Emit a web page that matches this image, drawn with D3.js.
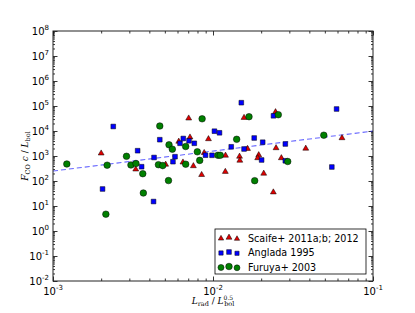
<!DOCTYPE html>
<html>
<head>
<meta charset="utf-8">
<script src="https://cdn.jsdelivr.net/npm/d3@7"></script>
<style>
  body { margin: 0; background: #fff; }
  text { font-family: "DejaVu Sans", sans-serif; }
</style>
</head>
<body>
<svg id="chart" width="415" height="313"></svg>
<script>
// Scaife+ 2011a;b; 2012 (red triangles)
const scaifeX = [0.00200, 0.00329, 0.00506, 0.00611, 0.00705, 0.00718, 0.00649, 0.00754, 0.00849, 0.00881,
  0.00937, 0.01563, 0.01643, 0.02459, 0.02478, 0.01197, 0.01465, 0.01471, 0.01931, 0.01902,
  0.02674, 0.01194, 0.02075, 0.02383, 0.0380, 0.0640];
const scaifeY = [1283, 294, 457, 3802, 32200, 5600, 560, 398, 177, 1343,
  4786, 34040, 1959, 57540, 2089, 1047, 955, 661, 1096, 832,
  832, 236, 200, 35.6, 1995, 5248];

// Anglada 1995 (blue squares)
const angladaX = [0.00238, 0.00338, 0.00358, 0.00204, 0.00425, 0.00428, 0.00465, 0.00562, 0.00579, 0.00622,
  0.00652, 0.00708, 0.00764, 0.00898, 0.00986, 0.01021, 0.01098, 0.01503, 0.02388, 0.01300,
  0.01563, 0.01809, 0.02045, 0.02831, 0.02013, 0.02831, 0.0592, 0.0553];
const angladaY = [15140, 1629, 373, 47.9, 15.1, 871, 4487, 592, 938, 3221,
  5012, 4055, 3221, 1076, 1067, 9817, 8472, 135500, 40550, 2333,
  1905, 5248, 3565, 3020, 692, 643, 75860, 363];

// Furuya+ 2003 (green circles)
const furuyaX = [0.00122, 0.00218, 0.00288, 0.00307, 0.00330, 0.00364, 0.00367, 0.00214, 0.00456, 0.00485,
  0.00527, 0.00465, 0.00531, 0.00557, 0.00675, 0.00675, 0.00826, 0.00798, 0.00855, 0.01074,
  0.01110, 0.01406, 0.01679, 0.02559, 0.02931, 0.01822, 0.04926];
const furuyaY = [479, 429, 973, 437, 501, 196, 33.1, 4.70, 449, 413,
  104, 15850, 2805, 1871, 2399, 470, 667, 1472, 30760, 1067,
  1067, 4656, 37330, 44870, 603, 103, 6792];

// dashed fit: F = fitNorm * (L / 1e-3)^fitSlope
const fitNorm = 250, fitSlope = 0.8;

const xExponents = [-3, -2, -1];
const yExponents = [-2, -1, 0, 1, 2, 3, 4, 5, 6, 7, 8];
const legendLabels = ["Scaife+ 2011a;b; 2012", "Anglada 1995", "Furuya+ 2003"];

const W = 415, H = 313;
const m = { top: 31, right: 42, bottom: 32, left: 53 };
const iW = W - m.left - m.right;
const iH = H - m.top - m.bottom;

const svg = d3.select("#chart");
const g = svg.append("g").attr("transform", `translate(${m.left},${m.top})`);

const x = d3.scaleLog().domain([1e-3, 1e-1]).range([0, iW]);
const y = d3.scaleLog().domain([1e-2, 1e8]).range([iH, 0]);

const xMajor = xExponents.map(e => Math.pow(10, e));
const yMajor = yExponents.map(e => Math.pow(10, e));
const isMajor = v => Math.abs(Math.log10(v) - Math.round(Math.log10(v))) < 1e-9;
const xMinor = x.ticks(20).filter(v => !isMajor(v));
const yMinor = y.ticks(100).filter(v => !isMajor(v));

// Ticks (inward, on all four sides)
function styleTicks(ax) {
  ax.select(".domain").remove();
  ax.selectAll(".tick line").attr("stroke", "#000").attr("stroke-width", 0.8);
  ax.selectAll(".tick text").remove();
}
g.append("g").attr("transform", `translate(0,${iH})`)
  .call(d3.axisBottom(x).tickValues(xMajor).tickSize(-4.5)).call(styleTicks);
g.append("g").attr("transform", `translate(0,${iH})`)
  .call(d3.axisBottom(x).tickValues(xMinor).tickSize(-2.5)).call(styleTicks);
g.append("g")
  .call(d3.axisTop(x).tickValues(xMajor).tickSize(-4.5)).call(styleTicks);
g.append("g")
  .call(d3.axisTop(x).tickValues(xMinor).tickSize(-2.5)).call(styleTicks);
g.append("g")
  .call(d3.axisLeft(y).tickValues(yMajor).tickSize(-4.5)).call(styleTicks);
g.append("g")
  .call(d3.axisLeft(y).tickValues(yMinor).tickSize(-2)).call(styleTicks);
g.append("g").attr("transform", `translate(${iW},0)`)
  .call(d3.axisRight(y).tickValues(yMajor).tickSize(-4.5)).call(styleTicks);
g.append("g").attr("transform", `translate(${iW},0)`)
  .call(d3.axisRight(y).tickValues(yMinor).tickSize(-2)).call(styleTicks);

// Tick labels: 10^n
function powLabel(sel, e) {
  sel.append("tspan").text("10");
  sel.append("tspan").attr("dy", -5).style("font-size", "7px").text(e);
}
xExponents.forEach(e => {
  g.append("text")
    .attr("x", x(Math.pow(10, e))).attr("y", iH + 14)
    .attr("text-anchor", "middle").style("font-size", "10px").attr("fill", "#000")
    .call(powLabel, e);
});
yExponents.forEach(e => {
  g.append("text")
    .attr("x", -4).attr("y", y(Math.pow(10, e)) + 4)
    .attr("text-anchor", "end").style("font-size", "10px").attr("fill", "#000")
    .call(powLabel, e);
});

// Fit line
const fit = v => fitNorm * Math.pow(v / 1e-3, fitSlope);
g.append("path")
  .datum(x.domain())
  .attr("d", d3.line().x(d => x(d)).y(d => y(fit(d))))
  .attr("stroke", "#3333ff").attr("stroke-opacity", 0.75).attr("stroke-width", 1.1)
  .attr("stroke-dasharray", "5,3").attr("fill", "none");

// Markers
const triSize = 15, sqSize = 22, circR = 3.3;
const tri = d3.symbol().type(d3.symbolTriangle).size(triSize);
const sq = d3.symbol().type(d3.symbolSquare).size(sqSize);

g.append("g").selectAll("path").data(d3.zip(scaifeX, scaifeY)).join("path")
  .attr("d", tri)
  .attr("transform", d => `translate(${x(d[0])},${y(d[1])})`)
  .attr("fill", "#e00000").attr("stroke", "#000").attr("stroke-width", 0.5);

g.append("g").selectAll("path").data(d3.zip(angladaX, angladaY)).join("path")
  .attr("d", sq)
  .attr("transform", d => `translate(${x(d[0])},${y(d[1])})`)
  .attr("fill", "#0000ff").attr("stroke", "#000").attr("stroke-width", 0.5);

g.append("g").selectAll("circle").data(d3.zip(furuyaX, furuyaY)).join("circle")
  .attr("cx", d => x(d[0])).attr("cy", d => y(d[1])).attr("r", circR)
  .attr("fill", "#008000").attr("stroke", "#000").attr("stroke-width", 0.5);

// Frame
g.append("rect").attr("width", iW).attr("height", iH)
  .attr("fill", "none").attr("stroke", "#222").attr("stroke-width", 1);

// Axis labels
const yl = svg.append("text")
  .attr("transform", `translate(28,${m.top + iH / 2}) rotate(-90)`)
  .attr("text-anchor", "middle")
  .style("font-family", "'DejaVu Serif', serif").style("font-size", "9px").attr("fill", "#000");
yl.append("tspan").style("font-style", "italic").text("F");
yl.append("tspan").attr("dy", 2).style("font-size", "6.5px").text("CO");
yl.append("tspan").attr("dy", -2).style("font-style", "italic").text(" c");
yl.append("tspan").text(" / ");
yl.append("tspan").style("font-style", "italic").text("L");
yl.append("tspan").attr("dy", 2).style("font-size", "6.5px").text("bol");

const xl = svg.append("text")
  .attr("x", m.left + iW / 2).attr("y", 304)
  .attr("text-anchor", "middle")
  .style("font-family", "'DejaVu Serif', serif").style("font-size", "9px").attr("fill", "#000");
xl.append("tspan").style("font-style", "italic").text("L");
xl.append("tspan").attr("dy", 2).style("font-size", "6.5px").text("rad");
xl.append("tspan").attr("dy", -2).text(" / ");
xl.append("tspan").style("font-style", "italic").text("L");
xl.append("tspan").attr("dy", -4).style("font-size", "6px").text("0.5");
xl.append("tspan").attr("dx", -9).attr("dy", 6).style("font-size", "6.5px").text("bol");

// Legend (lower right)
const legend = svg.append("g").attr("transform", `translate(215,229)`);
legend.append("rect").attr("width", 151).attr("height", 45)
  .attr("fill", "#fff").attr("stroke", "#000").attr("stroke-width", 0.8);
const keyX = [6, 14, 22], keyDy = [1, 0, 1.3], keyScale = [0.85, 1, 0.8];
legendLabels.forEach((lab, i) => {
  const row = legend.append("g").attr("transform", `translate(0,${8.5 + i * 14.5})`);
  keyX.forEach((kx, k) => {
    const s = keyScale[k];
    if (i === 0) {
      row.append("path").attr("d", d3.symbol().type(d3.symbolTriangle).size(triSize * s)())
        .attr("transform", `translate(${kx},${keyDy[k]})`)
        .attr("fill", "#e00000").attr("stroke", "#000").attr("stroke-width", 0.5);
    } else if (i === 1) {
      row.append("path").attr("d", d3.symbol().type(d3.symbolSquare).size(sqSize * s)())
        .attr("transform", `translate(${kx},${keyDy[k]})`)
        .attr("fill", "#0000ff").attr("stroke", "#000").attr("stroke-width", 0.5);
    } else {
      row.append("circle").attr("cx", kx).attr("cy", keyDy[k]).attr("r", circR * Math.sqrt(s))
        .attr("fill", "#008000").attr("stroke", "#000").attr("stroke-width", 0.5);
    }
  });
  row.append("text").attr("x", 33).attr("y", 4).style("font-size", "9.6px").attr("fill", "#000").text(lab);
});
</script>
</body>
</html>
